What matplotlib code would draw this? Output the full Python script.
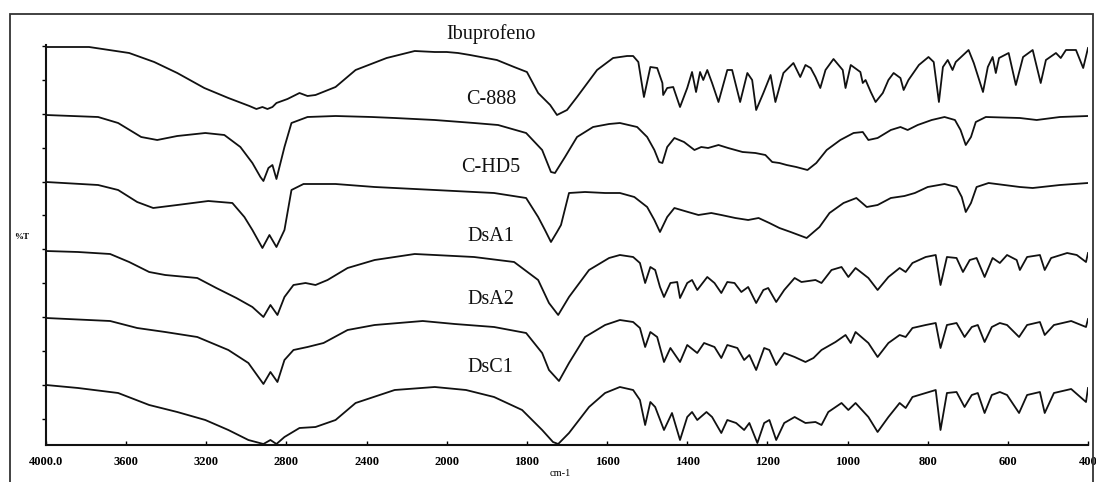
import matplotlib
matplotlib.use("Agg")
import matplotlib.pyplot as plt
import numpy as np
from matplotlib.patches import Rectangle

# FTIR spectra: wavenumber (cm-1) and stacked %T (arbitrary units)
ibu_wn = [4000, 3785, 3585, 3460, 3345, 3210, 3090, 2985, 2950, 2920, 2895, 2870, 2850, 2795, 2735,
          2695, 2655, 2555, 2455, 2300, 2160, 2060, 2000,
          1972, 1942, 1902, 1875, 1832, 1800, 1772, 1742, 1725, 1700,
          1675, 1625, 1585, 1550, 1535, 1522, 1508, 1492, 1475, 1462,
          1460, 1450, 1435, 1418, 1400, 1388, 1378, 1368, 1360, 1350,
          1338, 1322, 1300, 1288, 1268, 1250, 1238, 1228, 1210, 1192,
          1180, 1160, 1135, 1118, 1105, 1092, 1080, 1068, 1055, 1035,
          1012, 1005, 992, 968, 962, 955, 942, 930, 912, 898,
          885, 868, 860, 848, 822, 798, 785, 772, 762, 750,
          738, 730, 698, 685, 662, 650, 638, 630, 622, 598,
          580, 562, 538, 518, 505, 480, 468, 455, 430, 412, 400]
ibu_t = [398, 398, 392, 383, 372, 357, 347, 339, 336, 338, 336, 338, 342, 346, 352,
         349, 350, 358, 375, 387, 394, 393, 393,
         392, 390, 387, 385, 378, 373, 352, 340, 330, 335,
         348, 375, 387, 389, 389, 383, 348, 378, 377, 362,
         350, 357, 358, 338, 357, 373, 353, 373, 365, 375,
         362, 343, 375, 375, 343, 372, 365, 335, 352, 370,
         343, 372, 382, 368, 380, 377, 368, 357, 375, 386,
         375, 357, 380, 373, 362, 365, 353, 343, 352, 365,
         372, 367, 355, 365, 380, 388, 383, 343, 378, 385,
         375, 383, 395, 382, 353, 378, 388, 372, 387, 392,
         360, 388, 395, 362, 385, 392, 387, 395, 395, 377, 397]

c888_wn = [4000, 3740, 3640, 3525, 3445, 3345, 3205, 3110, 3030, 2970, 2930, 2915, 2890, 2870, 2850,
           2810, 2775, 2695, 2555, 2375, 2260, 2060,
           1932, 1872, 1802, 1762, 1740, 1730, 1705, 1675, 1635, 1595,
           1568, 1525, 1500, 1482, 1470, 1462, 1450, 1432, 1408, 1382,
           1365, 1348, 1322, 1298, 1262, 1230, 1205, 1188, 1170, 1152,
           1128, 1100, 1078, 1052, 1018, 985, 962, 948, 925, 892,
           868, 850, 825, 790, 758, 732, 718, 705, 692, 680,
           655, 570, 528, 470, 400]
c888_t = [330, 328, 322, 308, 305, 309, 312, 310, 298, 282, 268, 264, 277, 280, 266,
          298, 322, 328, 329, 328, 327, 325,
          322, 320, 312, 295, 273, 272, 288, 308, 318, 321,
          322, 318, 308, 295, 283, 282, 298, 307, 303, 295,
          298, 297, 300, 297, 293, 292, 290, 283, 282, 280,
          278, 275, 282, 295, 305, 312, 313, 305, 307, 315,
          318, 315, 320, 325, 328, 325, 315, 300, 308, 323,
          328, 327, 325, 328, 329]

chd5_wn = [4000, 3740, 3640, 3545, 3465, 3345, 3190, 3070, 3010, 2970, 2920, 2885, 2850, 2810, 2775,
           2715, 2555, 2360, 2060,
           1882, 1802, 1772, 1755, 1740, 1725, 1715, 1695, 1655, 1605,
           1568, 1532, 1500, 1482, 1468, 1450, 1432, 1398, 1372, 1340,
           1315, 1280, 1248, 1222, 1195, 1170, 1142, 1102, 1070, 1045,
           1010, 978, 952, 925, 892, 858, 832, 800, 758, 728,
           715, 705, 692, 678, 648, 570, 538, 470, 400]
chd5_t = [263, 260, 255, 243, 237, 240, 244, 242, 228, 215, 197, 210, 198, 215, 255,
          261, 261, 258, 255,
          252, 247, 228, 215, 203, 213, 220, 252, 253, 252,
          252, 248, 238, 225, 213, 228, 237, 233, 230, 232,
          230, 227, 225, 227, 222, 217, 213, 207, 218, 232,
          242, 247, 238, 240, 247, 249, 252, 258, 261, 258,
          248, 233, 242, 258, 262, 258, 257, 260, 262]

dsa1_wn = [4000, 3840, 3680, 3585, 3485, 3405, 3245, 3150, 3050, 2970, 2915, 2880, 2845, 2810, 2765,
           2705, 2655, 2595, 2495, 2360, 2160, 2060,
           1932, 1832, 1772, 1745, 1722, 1695, 1645, 1595, 1568, 1535,
           1518, 1505, 1492, 1480, 1468, 1458, 1442, 1425, 1418, 1400,
           1388, 1375, 1350, 1332, 1315, 1300, 1282, 1265, 1248, 1228,
           1210, 1198, 1178, 1158, 1132, 1115, 1080, 1065, 1040, 1015,
           998, 980, 948, 925, 898, 870, 855, 838, 805, 780,
           768, 752, 728, 712, 695, 678, 658, 638, 620, 602,
           578, 570, 552, 520, 508, 492, 452, 428, 405, 400]
dsa1_t = [194, 193, 191, 183, 173, 170, 167, 157, 147, 138, 128, 140, 130, 148, 160,
          162, 160, 165, 177, 185, 191, 190,
          188, 183, 165, 142, 130, 148, 175, 187, 190, 188,
          182, 162, 178, 175, 158, 148, 162, 163, 147, 162,
          165, 155, 168, 162, 152, 163, 162, 153, 158, 142,
          155, 157, 143, 155, 167, 163, 165, 162, 175, 178,
          168, 177, 167, 155, 168, 177, 173, 182, 188, 190,
          160, 188, 187, 173, 185, 187, 168, 187, 182, 190,
          185, 175, 188, 190, 175, 187, 192, 190, 183, 192]

dsa2_wn = [4000, 3680, 3545, 3405, 3245, 3090, 2990, 2915, 2880, 2845, 2810, 2765, 2695, 2615, 2495,
           2360, 2120,
           1980, 1882, 1802, 1762, 1745, 1720, 1695, 1655, 1605, 1568,
           1535, 1518, 1505, 1492, 1475, 1458, 1442, 1418, 1400, 1375,
           1358, 1332, 1315, 1300, 1275, 1258, 1245, 1228, 1208, 1195,
           1178, 1158, 1132, 1105, 1085, 1065, 1030, 1005, 992, 980,
           948, 925, 898, 870, 855, 838, 805, 780, 768, 752,
           728, 708, 690, 675, 658, 640, 620, 602, 572, 552,
           520, 508, 485, 442, 405, 400]
dsa2_t = [127, 124, 117, 113, 108, 95, 82, 61, 73, 63, 85, 95, 98, 102, 115,
          120, 124,
          121, 118, 112, 92, 75, 64, 82, 108, 120, 125,
          123, 117, 98, 113, 108, 83, 97, 83, 100, 92,
          102, 98, 87, 100, 97, 85, 90, 75, 97, 95,
          80, 92, 88, 83, 87, 95, 103, 110, 102, 113,
          102, 88, 102, 110, 108, 117, 120, 122, 97, 120,
          122, 108, 118, 120, 103, 118, 122, 120, 108, 120,
          123, 110, 120, 124, 118, 126]

dsc1_wn = [4000, 3840, 3640, 3485, 3345, 3205, 3090, 2990, 2915, 2880, 2850, 2810, 2735, 2655, 2555,
           2455, 2260, 2060,
           1952, 1882, 1812, 1762, 1735, 1722, 1695, 1645, 1605, 1568,
           1535, 1518, 1505, 1492, 1480, 1458, 1438, 1418, 1400, 1388,
           1375, 1352, 1338, 1315, 1300, 1278, 1258, 1245, 1225, 1208,
           1195, 1178, 1158, 1132, 1105, 1080, 1065, 1048, 1015, 998,
           980, 948, 925, 898, 870, 855, 838, 805, 780, 768,
           752, 728, 708, 690, 675, 658, 640, 620, 602, 572,
           552, 520, 508, 485, 442, 405, 400]
dsc1_t = [60, 57, 52, 40, 33, 25, 15, 5, 1, 5, 1, 8, 17, 18, 25,
          42, 55, 58,
          55, 48, 35, 15, 3, 1, 12, 38, 52, 58,
          55, 45, 20, 43, 38, 15, 32, 5, 28, 33,
          25, 33, 28, 12, 25, 22, 15, 22, 2, 22,
          25, 5, 22, 28, 22, 23, 20, 33, 42, 35,
          42, 28, 13, 28, 42, 37, 48, 52, 55, 15,
          52, 53, 38, 50, 52, 32, 50, 53, 50, 32,
          50, 53, 32, 52, 56, 43, 57]

labels = ["Ibuprofeno", "C-888", "C-HD5", "DsA1", "DsA2", "DsC1"]
label_t = [411, 345, 277, 208, 145, 78]
label_wn = 1890

x_ticks = [4000, 3600, 3200, 2800, 2400, 2000, 1800, 1600, 1400, 1200, 1000, 800, 600, 400]
x_ticklabels = ["4000.0", "3600", "3200", "2800", "2400", "2000", "1800", "1600",
                "1400", "1200", "1000", "800", "600", "400"]
y_ticks = [26, 60, 94, 128, 162, 196, 230, 263, 297, 331, 365, 399]


# 4000-2000 is drawn at half the scale of 2000-400
def fwd(w):
    w = np.asarray(w, dtype=float)
    return np.where(w > 2000, 2000 + (w - 2000) / 2, w)


def inv(u):
    u = np.asarray(u, dtype=float)
    return np.where(u > 2000, 2000 + (u - 2000) * 2, u)


W, H = 1096, 482
fig = plt.figure(figsize=(W / 100, H / 100), dpi=100)
ax = fig.add_axes([46 / W, 37 / H, 1042 / W, 400 / H])
ax.set_xscale("function", functions=(fwd, inv))

serif = ["Liberation Serif", "DejaVu Serif"]
traces = [(ibu_wn, ibu_t), (c888_wn, c888_t), (chd5_wn, chd5_t),
          (dsa1_wn, dsa1_t), (dsa2_wn, dsa2_t), (dsc1_wn, dsc1_t)]
for (wn, t), name, ty in zip(traces, labels, label_t):
    ax.plot(wn, t, color="#111111", lw=1.3)
    ax.text(label_wn, ty, name, ha="center", va="center", fontsize=14.5,
            family=serif, color="#111111", clip_on=False)

ax.set_xlim(4000, 400)
ax.set_ylim(0, 400)
ax.set_xticks(x_ticks)
ax.set_xticklabels(x_ticklabels, family=serif, fontsize=9, fontweight="bold")
ax.set_yticks(y_ticks)
ax.set_yticklabels([])
ax.minorticks_off()
ax.tick_params(axis="x", direction="in", length=3, width=1, pad=8)
ax.tick_params(axis="y", direction="out", length=3, width=1)
for side in ("top", "right"):
    ax.spines[side].set_visible(False)
for side in ("left", "bottom"):
    ax.spines[side].set_linewidth(1.5)
    ax.spines[side].set_color("#111111")

fig.text(22 / W, 1 - 237 / H, "%T", fontsize=6.5, fontweight="bold", family=serif,
         ha="center", va="center")
fig.text(560 / W, 1 - 474 / H, "cm-1", fontsize=7.5, family=serif, ha="center", va="center")

# scanned page frame
fig.add_artist(Rectangle((10 / W, -0.05), 1083 / W, 1.05 - 14 / H, transform=fig.transFigure,
                         fill=False, lw=1.3, ec="#333333"))

fig.savefig("out.png", dpi=100)
